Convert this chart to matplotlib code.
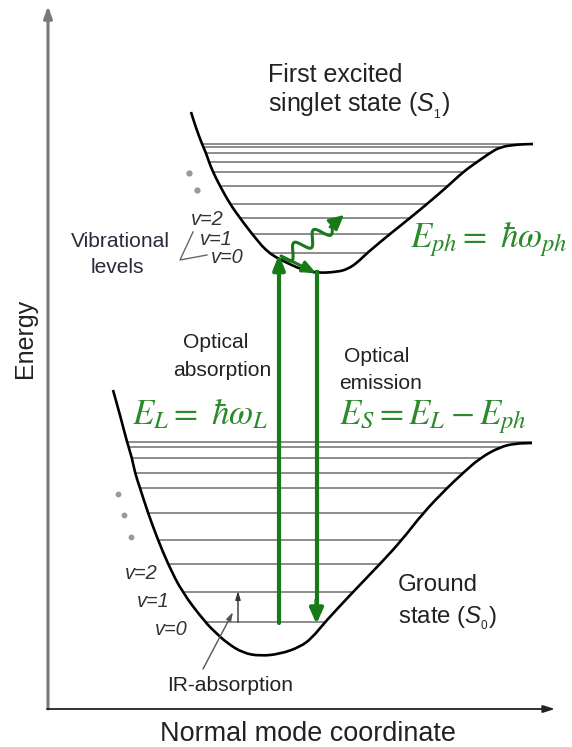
import numpy as np
import matplotlib
matplotlib.use("Agg")
import matplotlib.pyplot as plt
from matplotlib.path import Path
from matplotlib.patches import PathPatch

plt.rcParams['font.family'] = ['Liberation Sans', 'DejaVu Sans']
plt.rcParams['mathtext.fontset'] = 'custom'
plt.rcParams['mathtext.rm'] = 'Liberation Sans'
plt.rcParams['mathtext.it'] = 'Liberation Sans:italic'
plt.rcParams['mathtext.bf'] = 'Liberation Sans:bold'

# potential curves (pixel units, y downwards)
ground_x = [113, 120, 127, 132, 135, 140, 148, 158, 168, 182, 205, 215, 227, 243, 260,
            280, 300, 312, 325, 353, 380, 402, 423, 447, 463, 480, 500, 515, 532]
ground_y = [390, 415, 442, 458, 473, 488, 513, 540, 564, 592, 622, 632, 643, 653, 656,
            654, 647, 638, 622, 592, 564, 540, 513, 488, 473, 458, 447, 443.5, 443]
excited_x = [191, 196, 202, 206, 209, 213, 220, 230, 240, 252, 268, 287, 303, 317,
             337, 348, 358, 367, 390, 410, 427, 448, 463, 477, 490, 500, 517, 533]
excited_y = [112, 128, 144, 153, 162, 172, 186, 204, 218, 234, 253, 263, 270, 273,
             272, 269, 262, 253, 234, 218, 204, 186, 172, 162, 153, 147, 144.5, 144]

# vibrational levels
ground_levels = [442, 447, 458, 473, 488, 513, 540, 564, 592, 622]
excited_levels = [144, 147.3, 153.3, 161.7, 171.7, 186, 204, 218.3, 234.3, 252.7]

vib_labels = ['v=2', 'v=1', 'v=0']
eq_photon = r'$E_{ph} =\ \hbar\omega_{ph}$'
eq_laser = r'$E_L =\ \hbar\omega_L$'
eq_stokes = r'$E_S = E_L - E_{ph}$'

GREEN = '#167a16'
GREEN_TXT = '#2b8a2b'
TXT = '#222222'
LVL = '#8c8c8c'


def pt(px):
    return px / 1.389


def smooth_path(xs, ys):
    # quadratic pieces through the midpoints, the read points act as controls
    p = np.column_stack([xs, ys]).astype(float)
    verts = [p[0]]
    codes = [Path.MOVETO]
    verts.append((p[0] + p[1]) / 2)
    codes.append(Path.LINETO)
    for i in range(1, len(p) - 1):
        verts += [p[i], (p[i] + p[i + 1]) / 2]
        codes += [Path.CURVE3, Path.CURVE3]
    verts.append(p[-1])
    codes.append(Path.LINETO)
    return Path(verts, codes)


def draw_well(ax, xs, ys, levels):
    xs = np.array(xs, float)
    ys = np.array(ys, float)
    imin = int(np.argmax(ys))
    lx, ly = xs[:imin + 1], ys[:imin + 1]
    rx, ry = xs[imin:][::-1], ys[imin:][::-1]
    for lv in levels:
        x0 = np.interp(lv, ly, lx)
        x1 = np.interp(lv, ry, rx)
        ax.plot([x0, x1], [lv, lv], color=LVL, lw=1.4, solid_capstyle='butt', zorder=1)
    ax.add_patch(PathPatch(smooth_path(xs, ys), fill=False, edgecolor='black', lw=1.9, zorder=2))


fig = plt.figure(figsize=(5.72, 7.47), dpi=100)
ax = fig.add_axes([0, 0, 1, 1])
ax.set_xlim(0, 572)
ax.set_ylim(747, 0)
ax.axis('off')

# axes with arrows
ax.annotate('', xy=(48, 6), xytext=(48, 709),
            arrowprops=dict(arrowstyle='-|>,head_length=0.7,head_width=0.25', color='#7a7a7a', lw=2.2,
                            shrinkA=0, shrinkB=0))
ax.annotate('', xy=(555, 709), xytext=(47, 709),
            arrowprops=dict(arrowstyle='-|>,head_length=0.7,head_width=0.22', color='#222222', lw=1.3,
                            shrinkA=0, shrinkB=0))

draw_well(ax, ground_x, ground_y, ground_levels)
draw_well(ax, excited_x, excited_y, excited_levels)

# green transitions
up_x, dn_x = 279, 316.5
ax.annotate('', xy=(up_x, 254), xytext=(up_x, 623),
            arrowprops=dict(arrowstyle='-|>,head_length=0.9,head_width=0.35', color=GREEN, lw=3,
                            shrinkA=0, shrinkB=0), zorder=4)
ax.plot([dn_x, dn_x], [272, 608], color=GREEN, lw=3, zorder=4)
ax.annotate('', xy=(dn_x, 624), xytext=(dn_x, 600),
            arrowprops=dict(arrowstyle='-|>,head_length=0.9,head_width=0.4', color=GREEN, lw=3,
                            shrinkA=0, shrinkB=0), zorder=4)
ax.annotate('', xy=(316, 273), xytext=(281, 256),
            arrowprops=dict(arrowstyle='-|>,head_length=0.8,head_width=0.35', color=GREEN, lw=2.2,
                            shrinkA=0, shrinkB=0), zorder=4)

# wavy phonon arrow
p0 = np.array([283.0, 258.0])
p1 = np.array([332.0, 226.0])
d = p1 - p0
u = d / np.hypot(*d)
nrm = np.array([-u[1], u[0]])
s = np.linspace(0, 1, 200)
amp = 7.0 * np.sin(2 * np.pi * 2.5 * s)
wave = p0[None, :] + np.outer(s, d) + np.outer(amp, nrm)
ax.plot(wave[:, 0], wave[:, 1], color=GREEN, lw=2.2, zorder=4)
ax.annotate('', xy=(344, 215), xytext=(330, 227),
            arrowprops=dict(arrowstyle='-|>,head_length=0.9,head_width=0.45', color=GREEN, lw=2,
                            shrinkA=0, shrinkB=0), zorder=4)

# IR absorption arrow and pointer
ax.annotate('', xy=(238, 591), xytext=(238, 622),
            arrowprops=dict(arrowstyle='-|>,head_length=0.5,head_width=0.15', color='#333333', lw=1,
                            shrinkA=0, shrinkB=0), zorder=3)
ax.annotate('', xy=(233, 612), xytext=(203, 669),
            arrowprops=dict(arrowstyle='-|>,head_length=0.5,head_width=0.15', color='#555555', lw=1,
                            shrinkA=0, shrinkB=0), zorder=3)

# vibrational level pointer
ax.plot([193, 180, 207], [232, 260, 255], color='#666666', lw=1)

# dots
ax.plot([189, 197], [173, 190], 'o', color='#999999', ms=3.5)
ax.plot([118, 124, 131], [494, 515, 537], 'o', color='#999999', ms=3.2)

# labels
ax.text(268, 82, 'First excited', fontsize=pt(25), color=TXT)
ax.text(268, 112, r'singlet state ($S_{_1}$)', fontsize=pt(25), color=TXT)
ax.text(120, 247, 'Vibrational', fontsize=pt(21), color='#2a2a3a', ha='center')
ax.text(117, 273, 'levels', fontsize=pt(21), color='#2a2a3a', ha='center')
for lab, x, y in zip(vib_labels, [191, 200, 211], [225, 245, 263]):
    ax.text(x, y, lab, fontsize=pt(20), style='italic', color='#333333')
for lab, x, y in zip(vib_labels, [125, 137, 155], [579, 607, 635]):
    ax.text(x, y, lab, fontsize=pt(20), style='italic', color='#333333')

ax.text(410, 247, eq_photon, fontsize=pt(35), color=GREEN_TXT, math_fontfamily='stix')
ax.text(132, 424, eq_laser, fontsize=pt(35), color=GREEN_TXT, math_fontfamily='stix')
ax.text(339, 424, eq_stokes, fontsize=pt(35), color=GREEN_TXT, math_fontfamily='stix')

ax.text(216, 348, 'Optical', fontsize=pt(21), color=TXT, ha='center')
ax.text(222, 376, 'absorption', fontsize=pt(21), color=TXT, ha='center')
ax.text(377, 362, 'Optical', fontsize=pt(21), color=TXT, ha='center')
ax.text(381, 389, 'emission', fontsize=pt(21), color=TXT, ha='center')

ax.text(398, 591, 'Ground', fontsize=pt(24), color=TXT)
ax.text(398, 623, r'state ($S_{_0}$)', fontsize=pt(24), color=TXT)
ax.text(230, 691, 'IR-absorption', fontsize=pt(21), color=TXT, ha='center')

ax.text(308, 741, 'Normal mode coordinate', fontsize=pt(27), color=TXT, ha='center')
ax.text(25, 338, 'Energy', fontsize=pt(25), color=TXT, rotation=90, ha='center', va='center')

fig.savefig('out.png', dpi=100)
